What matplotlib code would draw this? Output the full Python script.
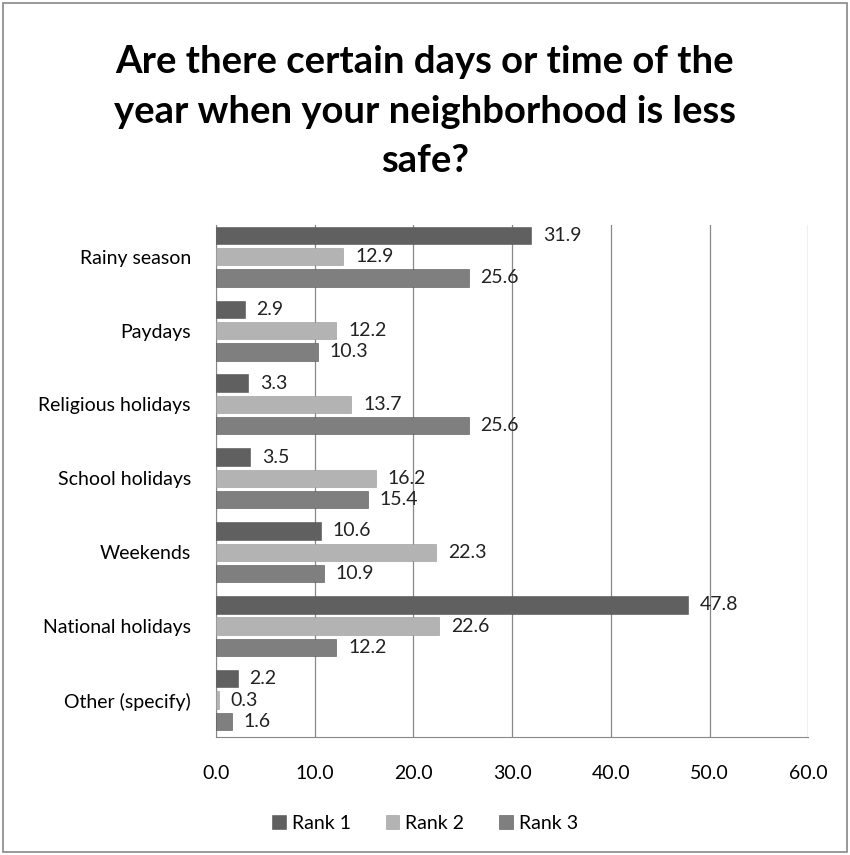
import numpy as np
import matplotlib.pyplot as plt
from matplotlib.patches import Rectangle

plt.rcParams['font.family'] = ['Lato', 'DejaVu Sans']

categories = ['Rainy season', 'Paydays', 'Religious holidays', 'School holidays',
              'Weekends', 'National holidays', 'Other (specify)']
rank1 = [31.9, 2.9, 3.3, 3.5, 10.6, 47.8, 2.2]
rank2 = [12.9, 12.2, 13.7, 16.2, 22.3, 22.6, 0.3]
rank3 = [25.6, 10.3, 25.6, 15.4, 10.9, 12.2, 1.6]
series_names = ['Rank 1', 'Rank 2', 'Rank 3']
colors = ['#606060', '#b3b3b3', '#7f7f7f']
xticks = [0, 10, 20, 30, 40, 50, 60]

fig = plt.figure(figsize=(8.5, 8.55), dpi=100)
# outer chart border
fig.patches.append(Rectangle((0.004, 0.003), 0.992, 0.994, transform=fig.transFigure,
                             fill=False, edgecolor='#888888', linewidth=1.2))

ax = fig.add_axes([0.254, 0.138, 0.697, 0.599])

n = len(categories)
y = np.arange(n)
step = 0.288
for i, (vals, name, c) in enumerate(zip([rank1, rank2, rank3], series_names, colors)):
    pos = y + (i - 1) * step
    ax.barh(pos, vals, height=0.235, color=c, edgecolor='#555555' if i != 1 else '#999999',
            linewidth=0.4, label=name, zorder=3)
    for p, v in zip(pos, vals):
        ax.text(v + 1.2, p, '{:.1f}'.format(v), va='center', ha='left', fontsize=14,
                color='#222222', zorder=4)

ax.set_ylim(n - 0.5, -0.43)
ax.set_xlim(0, 60)
ax.set_yticks(y)
ax.set_yticklabels(categories, fontsize=14)
ax.set_xticks(xticks)
ax.set_xticklabels(['{:.1f}'.format(t) for t in xticks], fontsize=14)
ax.tick_params(axis='y', length=0, pad=18)
ax.tick_params(axis='x', length=0, pad=20)
ax.grid(axis='x', color='#888888', linewidth=0.9, zorder=0)
for s in ['top', 'right']:
    ax.spines[s].set_visible(False)
for s in ['left', 'bottom']:
    ax.spines[s].set_color('#888888')

fig.text(0.5, 0.947, 'Are there certain days or time of the\nyear when your neighborhood is less\nsafe?',
         ha='center', va='top', fontsize=27.5, fontweight='bold', linespacing=1.55)

leg = fig.legend(loc='center', bbox_to_anchor=(0.5, 0.037), ncol=3, frameon=False,
                 fontsize=14, handlelength=0.7, handleheight=0.7, handletextpad=0.3,
                 columnspacing=1.8)

plt.savefig('out.png', dpi=100)
